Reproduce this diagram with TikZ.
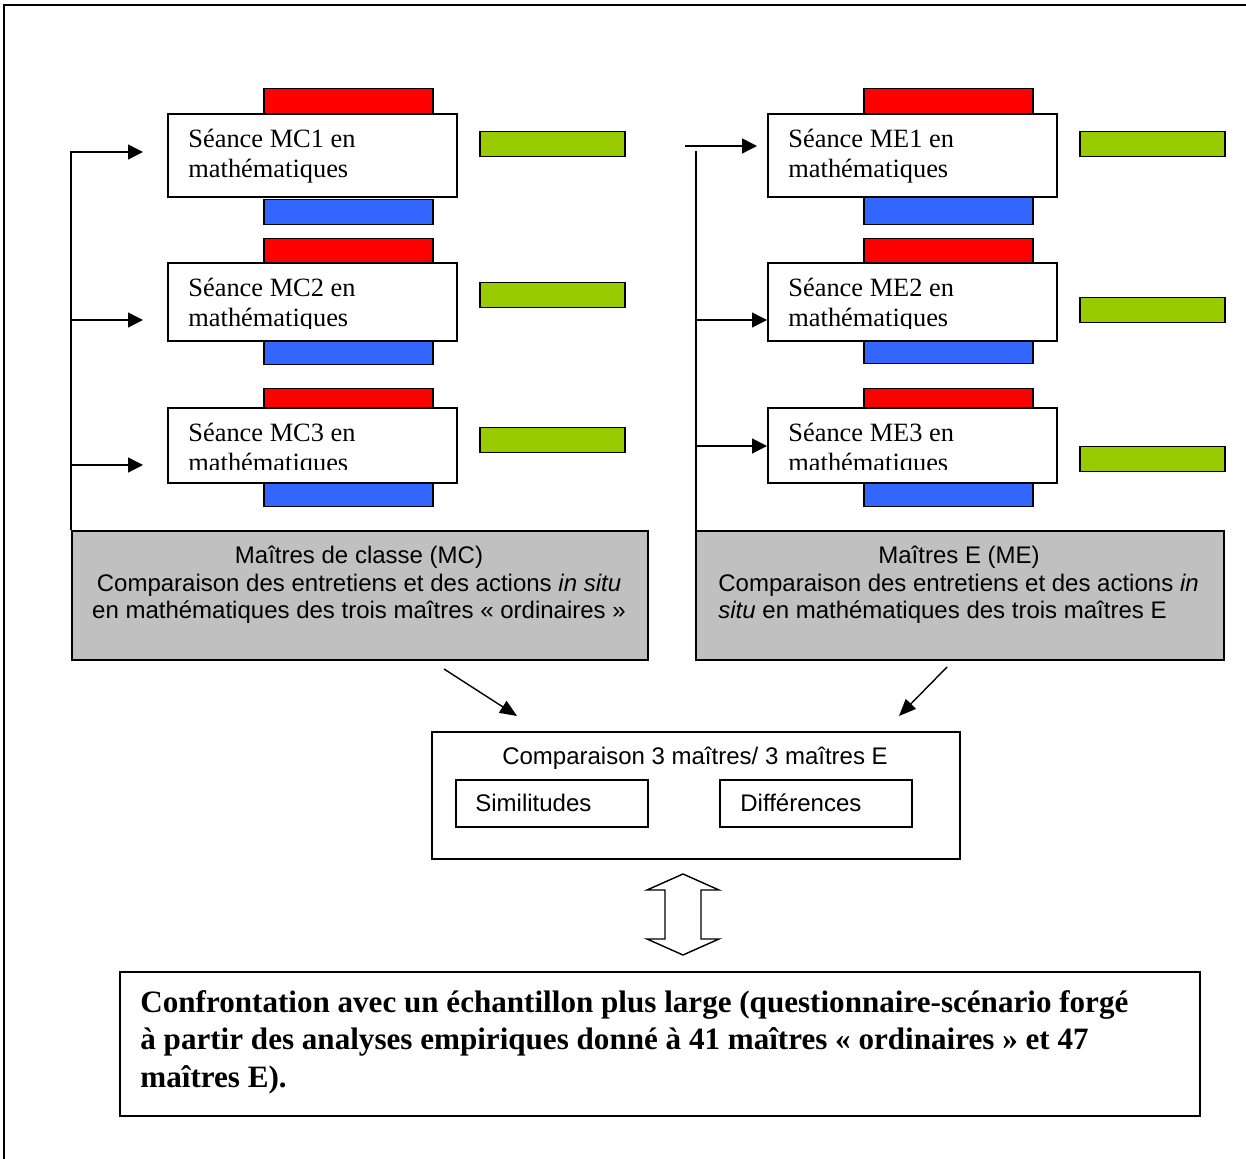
\documentclass[tikz,border=0pt]{standalone}
\usepackage{fontspec}
\setmainfont{Liberation Serif}
\newfontfamily\arialf{Liberation Sans}
\usetikzlibrary{arrows.meta}
\definecolor{barred}{HTML}{FF0000}
\definecolor{barblue}{HTML}{3366FF}
\definecolor{bargreen}{HTML}{99CC00}
\definecolor{boxgray}{HTML}{C0C0C0}
\begin{document}
\begin{tikzpicture}[x=0.5pt,y=-0.5pt,
  bar/.style={draw=black, line width=0.75pt, anchor=north west, inner sep=0pt, minimum height=12.5pt},
  redbar/.style={bar, fill=barred, minimum width=84.5pt},
  bluebar/.style={bar, fill=barblue, minimum width=84.5pt},
  greenbar/.style={bar, fill=bargreen, minimum width=72.5pt},
  seance/.style={draw=black, fill=white, line width=1pt, anchor=north west, inner sep=0pt, minimum width=144.5pt},
  stext/.style={anchor=base west, inner sep=0pt, font=\fontsize{13.2pt}{15pt}\selectfont},
  graybox/.style={draw=black, fill=boxgray, line width=1pt, anchor=north west, inner sep=0pt, minimum height=64.5pt},
  plainbox/.style={draw=black, fill=white, line width=1pt, anchor=north west, inner sep=0pt},
  gtext/.style={inner sep=0pt, font=\arialf\fontsize{12pt}{13.5pt}\selectfont},
  btext/.style={anchor=base west, inner sep=0pt, font=\bfseries\fontsize{15.55pt}{18.75pt}\selectfont},
  arr/.style={line width=0.7pt, -{Triangle[length=7.5pt,width=7.5pt]}},
  darr/.style={line width=0.7pt, -{Triangle[length=8.5pt,width=7pt]}}]
\useasboundingbox (0,0) rectangle (1246,1159);
% outer frame
\draw[line width=1pt] (4,1159) -- (4,5) -- (1246,5);

% ---------- left column ----------
\node[redbar] (r1) at (263,88) {};
\node[redbar] (r2) at (263,238) {};
\node[redbar] (r3) at (263,388) {};
\node[bluebar] (b1) at (263,199) {};
\node[bluebar] (b2) at (263,339) {};
\node[bluebar] (b3) at (263,481) {};
\node[greenbar] (g1) at (479,131) {};
\node[greenbar] (g2) at (479,282) {};
\node[greenbar] (g3) at (479,427) {};
\node[seance, minimum height=41.5pt] (mc1) at (167,113) {};
\node[seance, minimum height=39pt] (mc2) at (167,262) {};
\node[seance, minimum height=37.5pt] (mc3) at (167,407) {};
\node[stext] (mc1a) at (188,148) {Séance MC1 en};
\node[stext] (mc1b) at (188,178) {mathématiques};
\node[stext] (mc2a) at (188,297) {Séance MC2 en};
\begin{scope}
\clip (167,262) rectangle (456,329);
\node[stext] (mc2b) at (188,327) {mathématiques};
\end{scope}
\node[stext] (mc3a) at (188,442) {Séance MC3 en};
\begin{scope}
\clip (167,407) rectangle (456,470);
\node[stext] (mc3b) at (188,472) {mathématiques};
\end{scope}

% ---------- right column ----------
\node[redbar] (r4) at (863,88) {};
\node[redbar] (r5) at (863,238) {};
\node[redbar] (r6) at (863,388) {};
\node[bluebar, minimum height=17pt] (b4) at (863,190) {};
\node[bluebar] (b5) at (863,338) {};
\node[bluebar] (b6) at (863,481) {};
\node[greenbar] (g4) at (1079,131) {};
\node[greenbar] (g5) at (1079,297) {};
\node[greenbar] (g6) at (1079,446) {};
\node[seance, minimum height=41.5pt] (me1) at (767,113) {};
\node[seance, minimum height=39pt] (me2) at (767,262) {};
\node[seance, minimum height=37.5pt] (me3) at (767,407) {};
\node[stext] (me1a) at (788,148) {Séance ME1 en};
\node[stext] (me1b) at (788,178) {mathématiques};
\node[stext] (me2a) at (788,297) {Séance ME2 en};
\begin{scope}
\clip (767,262) rectangle (1056,329);
\node[stext] (me2b) at (788,327) {mathématiques};
\end{scope}
\node[stext] (me3a) at (788,442) {Séance ME3 en};
\begin{scope}
\clip (767,407) rectangle (1056,470);
\node[stext] (me3b) at (788,472) {mathématiques};
\end{scope}

% ---------- gray boxes ----------
\node[graybox, minimum width=288pt] (mcg) at (71,530) {};
\node[graybox, minimum width=264pt] (meg) at (695,530) {};
\node[gtext, anchor=base] (mcg1) at (359,564) {Maîtres de classe (MC)};
\node[gtext, anchor=base] (mcg2) at (359,591.5) {Comparaison des entretiens et des actions \textit{in situ}};
\node[gtext, anchor=base] (mcg3) at (359,618) {en mathématiques des trois maîtres «~ordinaires~»};
\node[gtext, anchor=base] (meg1) at (959,564) {Maîtres E (ME)};
\node[gtext, anchor=base west] (meg2) at (718,591.5) {Comparaison des entretiens et des actions \textit{in}};
\node[gtext, anchor=base west] (meg3) at (718,618) {\textit{situ} en mathématiques des trois maîtres E};

% ---------- left arrows ----------
\coordinate (lt1) at (143,152);
\coordinate (lt2) at (143,320);
\coordinate (lt3) at (143,465);
\draw[arr] (mcg.north west) |- (lt1);
\draw[arr] (mcg.north west |- lt2) -- (lt2);
\draw[arr] (mcg.north west |- lt3) -- (lt3);

% ---------- right arrows ----------
\coordinate (rs1) at (685,146);
\coordinate (rt1) at (757,146);
\coordinate (rv) at (696,151);
\coordinate (ry2) at (696,320);
\coordinate (ry3) at (696,446);
\draw[arr] (rs1) -- (rt1);
\draw[line width=0.7pt] (meg.north west -| rv) -- (rv);
\draw[arr] (ry2) -- (me2.west |- ry2);
\draw[arr] (ry3) -- (me3.west |- ry3);

% ---------- comparison box ----------
\node[plainbox, minimum width=264pt, minimum height=63.5pt] (cmp) at (431,731) {};
\node[gtext, anchor=base] (cmpt) at (695,764) {Comparaison 3 maîtres/ 3 maîtres E};
\node[plainbox, minimum width=96pt, minimum height=23.5pt] (sim) at (455,779) {};
\node[plainbox, minimum width=96pt, minimum height=23.5pt] (dif) at (719,779) {};
\node[gtext, anchor=base west] (simt) at (475,811) {Similitudes};
\node[gtext, anchor=base west] (dift) at (740,811) {Différences};

% diagonal arrows
\coordinate (d1s) at (444,669);
\coordinate (d1e) at (517,716);
\coordinate (d2s) at (947,667);
\coordinate (d2e) at (899,716);
\draw[darr] (d1s) -- (d1e);
\draw[darr] (d2s) -- (d2e);

% ---------- double arrow ----------
\draw[line width=0.7pt, fill=white] (683,874) -- (719,890) -- (701,890) -- (701,939) -- (719,939)
  -- (683,955) -- (647,939) -- (665,939) -- (665,890) -- (647,890) -- cycle;

% ---------- bottom box ----------
\node[plainbox, minimum width=540pt, minimum height=72pt] (conf) at (119,971) {};
\node[btext] (conf1) at (140,1012) {Confrontation avec un échantillon plus large (questionnaire-scénario forgé};
\node[btext] (conf2) at (140,1049) {à partir des analyses empiriques donné à 41 maîtres «~ordinaires~» et 47};
\node[btext] (conf3) at (140,1087) {maîtres E).};
\end{tikzpicture}
\end{document}
